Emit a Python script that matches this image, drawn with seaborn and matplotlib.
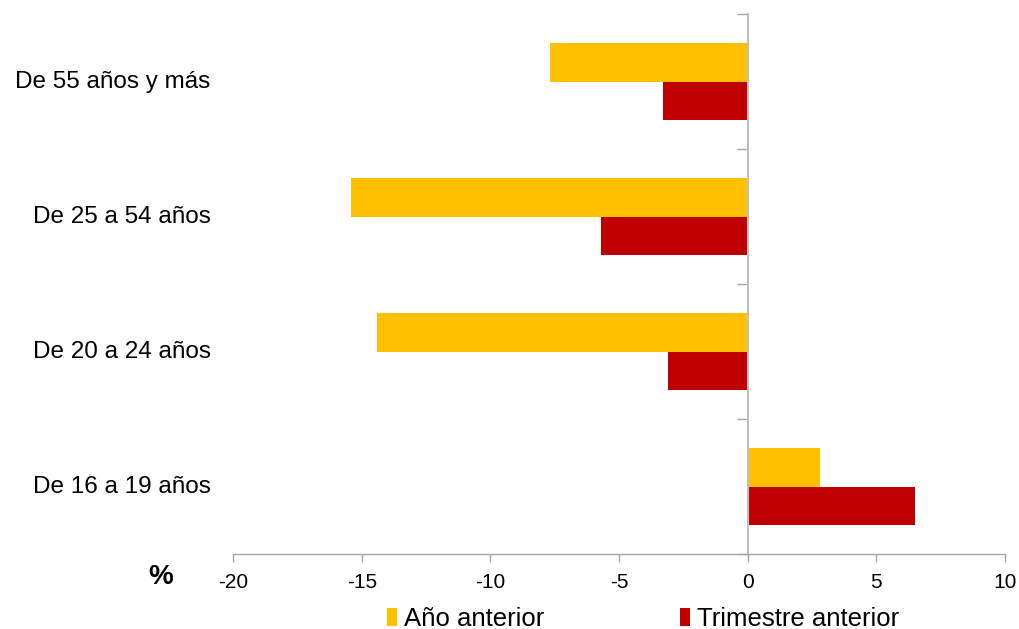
import matplotlib; matplotlib.use("Agg")
import matplotlib.pyplot as plt
import matplotlib.transforms as mtransforms
from matplotlib.patches import Patch
import seaborn as sns
import pandas as pd
import numpy as np

grupos     = ["De 55 años y más", "De 25 a 54 años", "De 20 a 24 años", "De 16 a 19 años"]
anio_ant   = [-7.7, -15.4, -14.4, 2.8]
trim_ant   = [-3.3, -5.7, -3.1, 6.5]
series     = ["Año anterior", "Trimestre anterior"]
colores    = ["#FFC000", "#C00000"]
xticks     = [-20, -15, -10, -5, 0, 5, 10]

df = pd.DataFrame({
    "grupo": grupos * 2,
    "valor": anio_ant + trim_ant,
    "serie": [series[0]] * len(grupos) + [series[1]] * len(grupos),
})

sns.set_style("white")
plt.rcParams["font.family"] = ["Liberation Sans", "DejaVu Sans"]
plt.rcParams["text.color"] = "black"
plt.rcParams["xtick.color"] = "black"

fig = plt.figure(figsize=(10.19, 6.29), dpi=100)
ax = fig.add_axes([0.2287, 0.1192, 0.9863 - 0.2287, 0.9777 - 0.1192])

sns.barplot(data=df, x="valor", y="grupo", hue="serie", order=grupos,
            hue_order=series, palette=colores, orient="h", width=0.57,
            ax=ax, legend=False, saturation=1, edgecolor="none")

gray = "#A6A6A6"
ax.set_xlim(-20, 10)
ax.set_ylim(len(grupos) - 0.5, -0.5)
ax.set_xticks(xticks)
ax.set_xticklabels([str(t) for t in xticks], fontsize=15)
ax.tick_params(axis="x", bottom=True, length=6, width=1, color=gray,
               labelcolor="black", pad=8)

# eje vertical en x=0, marcas en los limites de cada categoria
for s in ["top", "right"]:
    ax.spines[s].set_visible(False)
ax.spines["left"].set_position(("data", 0))
ax.spines["left"].set_color("#BFBFBF")
ax.spines["left"].set_linewidth(1.5)
ax.spines["bottom"].set_color(gray)
ax.spines["bottom"].set_linewidth(1)
ax.set_yticks(np.arange(len(grupos) + 1) - 0.5)
ax.set_yticklabels([])
ax.tick_params(axis="y", left=True, length=8, width=1, color=gray)
ax.set_xlabel(""); ax.set_ylabel("")

trans = mtransforms.blended_transform_factory(ax.transAxes, ax.transData)
for i, g in enumerate(grupos):
    ax.text(-0.029, i, g, transform=trans, ha="right", va="center", fontsize=17.5)

fig.text(0.158, 0.083, "%", ha="center", va="center", fontsize=20, fontweight="bold")

handles = [Patch(facecolor=c, edgecolor="none") for c in colores]
fig.legend(handles, series, loc="center", bbox_to_anchor=(0.631, 0.016), ncol=2,
           frameon=False, fontsize=18.5, handlelength=0.4, handleheight=0.7,
           handletextpad=0.25, columnspacing=5.3)

fig.savefig("out.png", dpi=100)
